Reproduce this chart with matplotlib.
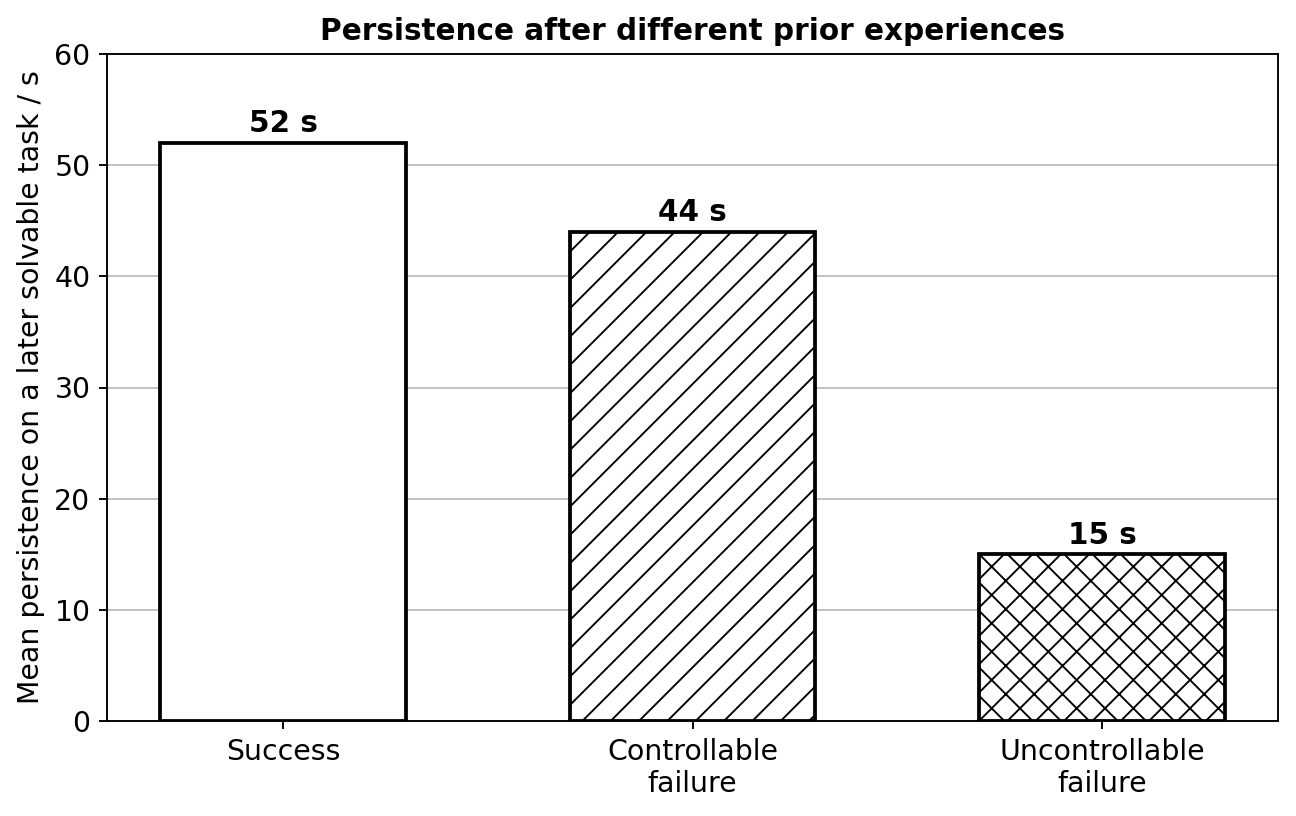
import matplotlib
matplotlib.use("Agg")
import matplotlib.pyplot as plt

# data
categories = ["Success", "Controllable\nfailure", "Uncontrollable\nfailure"]
persistence = [52, 44, 15]
hatches = ["", "//", "xx"]

plt.rcParams["hatch.linewidth"] = 0.8

fig = plt.figure(figsize=(1296 / 170, 816 / 170), dpi=170)
ax = fig.add_axes([107 / 1296, 1 - 721 / 816, (1278 - 107) / 1296, (721 - 54) / 816])

x = range(len(categories))
bars = ax.bar(x, persistence, width=0.6, color="white", edgecolor="black",
              linewidth=1.6, hatch=hatches, zorder=3)

for rect, val in zip(bars, persistence):
    ax.text(rect.get_x() + rect.get_width() / 2, val + 0.4, f"{val} s",
            ha="center", va="bottom", fontsize=12.5, fontweight="bold")

ax.set_xticks(list(x))
ax.set_xticklabels(categories, fontsize=12)
ax.set_xlim(-0.43, 2.43)
ax.set_ylim(0, 60)
ax.tick_params(axis="y", labelsize=12)
ax.set_ylabel("Mean persistence on a later solvable task / s", fontsize=12)
ax.set_title("Persistence after different prior experiences",
             fontsize=12.5, fontweight="bold")
ax.yaxis.grid(True, color="#c0c0c0", linewidth=0.8, zorder=0)
ax.set_axisbelow(True)

fig.savefig("out.png", dpi=170)
